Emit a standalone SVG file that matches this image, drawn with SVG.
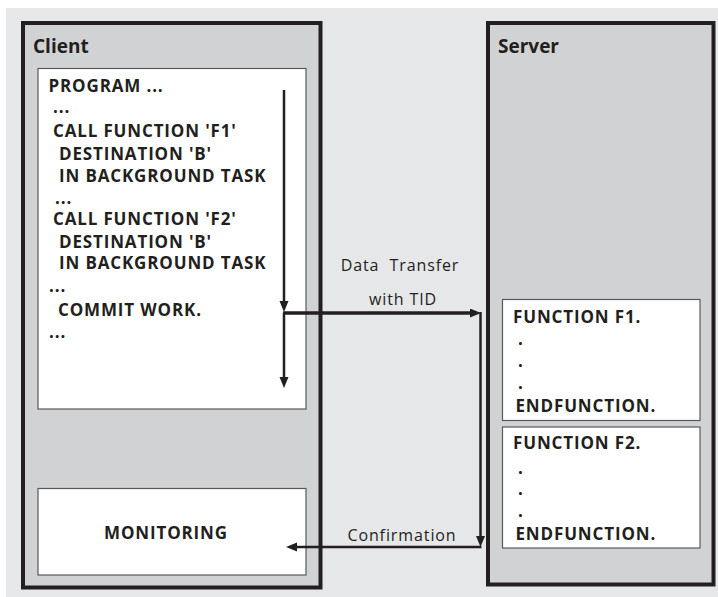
<svg xmlns="http://www.w3.org/2000/svg" width="718" height="597" viewBox="0 0 718 597">
  <style>
    .frame { fill: #d1d2d4; stroke: #231f20; stroke-width: 4; }
    .panel { fill: #ffffff; stroke: #58595b; stroke-width: 1.2; }
    .title { font-family: "Open Sans", "Liberation Sans", sans-serif; font-weight: bold; font-size: 19px; fill: #231f20; }
    .code { font-family: "Open Sans", "Liberation Sans", sans-serif; font-weight: bold; font-size: 17px; fill: #231f20; letter-spacing: 0.85px; }
    .label { font-family: "Open Sans", "Liberation Sans", sans-serif; font-size: 16px; fill: #231f20; letter-spacing: 0.9px; }
    .flow { fill: none; stroke: #231f20; }
  </style>
  <defs>
    <marker id="head" markerUnits="userSpaceOnUse" markerWidth="12" markerHeight="10" refX="1" refY="4.5" orient="auto">
      <path d="M0,0 L11,4.5 L0,9 Z" fill="#231f20"/>
    </marker>
  </defs>

  <!-- page background -->
  <rect x="6" y="8" width="712" height="589" fill="#e6e7e8"/>

  <!-- client side -->
  <g id="client">
    <rect class="frame" x="23" y="23" width="297.5" height="564.5"/>
    <text class="title" x="33" y="53">Client</text>
  </g>

  <g id="program">
    <rect class="panel" x="38" y="68.5" width="268" height="340.5"/>
    <!-- ABAP listing, one line per tspan -->
    <text class="code">
      <tspan x="48.5" y="91.5">PROGRAM ...</tspan>
      <tspan x="53" y="113">...</tspan>
      <tspan x="53" y="136.5">CALL FUNCTION 'F1'</tspan>
      <tspan x="59" y="159.5">DESTINATION 'B'</tspan>
      <tspan x="59" y="182">IN BACKGROUND TASK</tspan>
      <tspan x="55" y="203.5">...</tspan>
      <tspan x="53" y="225">CALL FUNCTION 'F2'</tspan>
      <tspan x="59" y="247.5">DESTINATION 'B'</tspan>
      <tspan x="59" y="269">IN BACKGROUND TASK</tspan>
      <tspan x="49" y="292">...</tspan>
      <tspan x="58" y="315.5">COMMIT WORK.</tspan>
      <tspan x="49" y="338">...</tspan>
    </text>
  </g>

  <g id="monitoring">
    <rect class="panel" x="38" y="488.5" width="268" height="86.5"/>
    <text class="code" x="166" y="538.5" text-anchor="middle">MONITORING</text>
  </g>

  <!-- server side -->
  <g id="server">
    <rect class="frame" x="488" y="23" width="225.5" height="561.5"/>
    <text class="title" x="498" y="53">Server</text>
  </g>

  <g id="function-f1">
    <rect class="panel" x="502.5" y="299.5" width="197.5" height="121"/>
    <text class="code">
      <tspan x="513" y="322.5">FUNCTION F1.</tspan>
      <tspan x="518" y="345">.</tspan>
      <tspan x="518" y="366.5">.</tspan>
      <tspan x="518" y="388.5">.</tspan>
      <tspan x="515.5" y="411.5">ENDFUNCTION.</tspan>
    </text>
  </g>

  <g id="function-f2">
    <rect class="panel" x="502.5" y="427" width="197.5" height="121"/>
    <text class="code">
      <tspan x="513" y="448.5">FUNCTION F2.</tspan>
      <tspan x="518" y="473.5">.</tspan>
      <tspan x="518" y="494.5">.</tspan>
      <tspan x="518" y="516.5">.</tspan>
      <tspan x="515.5" y="539.5">ENDFUNCTION.</tspan>
    </text>
  </g>

  <!-- connectors -->
  <g id="connectors">
    <!-- program flow down the client -->
    <path class="flow" stroke-width="2.5" d="M284,90 V302" marker-end="url(#head)"/>
    <path class="flow" stroke-width="2.5" d="M284,313 V378" marker-end="url(#head)"/>
    <!-- data transfer to the server -->
    <path class="flow" stroke-width="3.5" d="M283,313 H471" marker-end="url(#head)"/>
    <!-- confirmation back to monitoring -->
    <path class="flow" stroke-width="2.5" d="M480.5,312 V537" marker-end="url(#head)"/>
    <path class="flow" stroke-width="2.5" d="M481.5,547 H296" marker-end="url(#head)"/>
    <text class="label" x="400" y="270.5" text-anchor="middle" xml:space="preserve">Data  Transfer</text>
    <text class="label" x="403" y="305" text-anchor="middle">with TID</text>
    <text class="label" x="402" y="540.5" text-anchor="middle">Confirmation</text>
  </g>
</svg>
